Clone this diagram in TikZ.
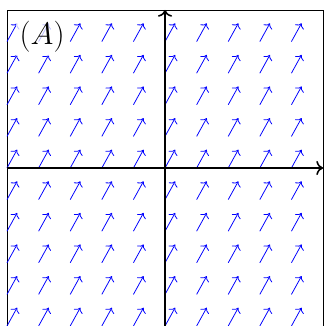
\RequirePackage{fix-cm}
\documentclass[tikz,border=0pt]{standalone}
\usetikzlibrary{arrows.meta}
\begin{document}
\begin{tikzpicture}[
  fieldarrow/.style={-{To[scale=1.35]}, blue, line width=0.7pt},
  axisline/.style={-{To[scale=1.3]}, black, line width=1.4pt},
  framebox/.style={draw=black, line width=0.8pt},
  labelbox/.style={fill=white, fill opacity=0.75, text opacity=1, font=\fontsize{28}{32}\selectfont}
]
\useasboundingbox (-5.222,-5.0) rectangle (5.063,5.316);
\draw[framebox] (-5,-5) rectangle (5,5);
\foreach \i in {-5,...,4}{
  \foreach \j in {-5,...,4}{
    \coordinate (t\i\j) at (\i,\j);
    \coordinate (h\i\j) at (\i+0.32,\j+0.58);
    \draw[fieldarrow] (t\i\j) -- (h\i\j);
  }
}
\node[labelbox] (lab) at (-3.89,4.15) {$(A)$};
\coordinate (xl) at (-5,0);
\coordinate (xr) at (5,0);
\coordinate (yb) at (0,-5);
\coordinate (yt) at (0,5);
\draw[axisline] (xl) -- (xr);
\draw[axisline] (yb) -- (yt);
\end{tikzpicture}
\end{document}
